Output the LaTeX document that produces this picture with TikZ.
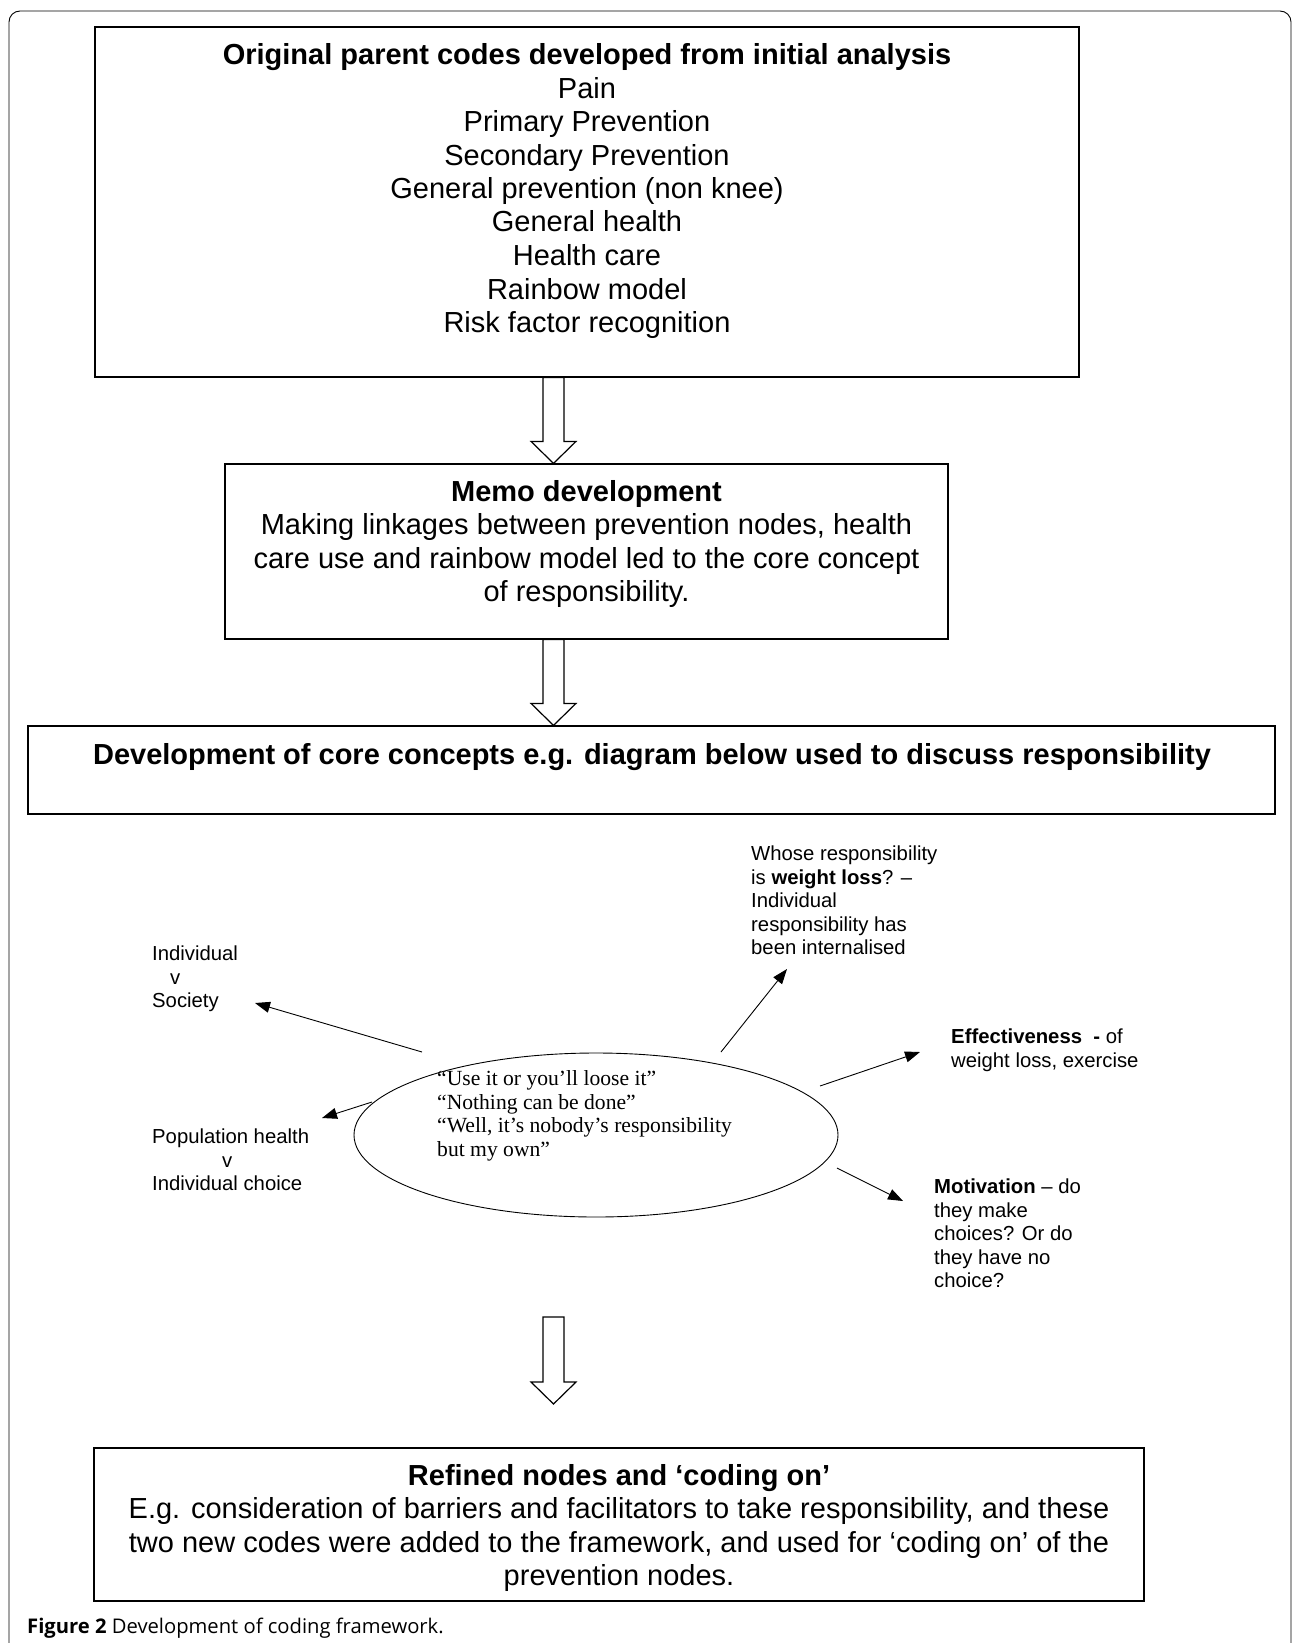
\documentclass[tikz,border=0pt]{standalone}
\usepackage{fontspec}
\setmainfont{Liberation Sans}
\newfontfamily\quotefont{Liberation Serif}
\newfontfamily\capfont{Open Sans}
\usetikzlibrary{arrows.meta,calc,shapes.geometric}

\newcommand{\hollowarrow}[2]{%
	\draw[hollow] ($(#1)+(-10.5,0)$) -- ($(#2)+(-10.5,-22)$) -- ($(#2)+(-22.5,-22)$) -- (#2)
		-- ($(#2)+(22.5,-22)$) -- ($(#2)+(10.5,-22)$) -- ($(#1)+(10.5,0)$) -- cycle;}

\tikzset{
	box/.style={draw,line width=1.2pt,inner sep=0pt},
	boxtext/.style={align=center,inner sep=0pt,font=\fontsize{29}{33.5}\selectfont},
	note/.style={align=left,anchor=north west,inner sep=0pt,font=\fontsize{20.3}{23.5}\selectfont},
	hollow/.style={line width=1.2pt,line join=miter},
	pointer/.style={line width=0.9pt,-{Triangle[length=15pt,width=11pt]}},
}

\begin{document}
\begin{tikzpicture}[x=1pt,y=-1pt]
	\useasboundingbox (0,0) rectangle (1293,1643);
	\draw[line width=0.9pt,rounded corners=11pt] (9,1643) -- (9,11) -- (1291,11) -- (1291,1643);

	\path (587,202) node[box,minimum width=984pt,minimum height=350pt] (origbox) {};
	\path (587,191) node[boxtext] (origtxt) {\textbf{Original parent codes developed from initial analysis}\\
		Pain\\Primary Prevention\\Secondary Prevention\\General prevention (non knee)\\
		General health\\Health care\\Rainbow model\\Risk factor recognition};

	\path (586.5,551.5) node[box,minimum width=723pt,minimum height=175pt] (memobox) {};
	\path (586.5,544) node[boxtext] (memotxt) {\textbf{Memo development}\\
		Making linkages between prevention nodes, health\\
		care use and rainbow model led to the core concept\\
		of responsibility.};

	\path (651.5,770) node[box,minimum width=1247pt,minimum height=88pt] (conceptbox) {};
	\path (652,757) node[boxtext] (concepttxt) {\textbf{Development of core concepts e.g. diagram below used to discuss responsibility}};

	\path (619,1524.5) node[box,minimum width=1050pt,minimum height=153pt] (refinebox) {};
	\path (619,1528) node[boxtext] (refinetxt) {\textbf{Refined nodes and ‘coding on’}\\
		E.g. consideration of barriers and facilitators to take responsibility, and these\\
		two new codes were added to the framework, and used for ‘coding on’ of the\\
		prevention nodes.};

	\coordinate (axis) at (553.5,0);
	\coordinate (up1) at (origbox.south -| axis);
	\coordinate (dn1) at (memobox.north -| axis);
	\coordinate (up2) at (memobox.south -| axis);
	\coordinate (dn2) at (conceptbox.north -| axis);
	\coordinate (up3) at (553.5,1317);
	\coordinate (dn3) at (553.5,1404);
	\hollowarrow{up1}{dn1}
	\hollowarrow{up2}{dn2}
	\hollowarrow{up3}{dn3}

	\path (596,1135) node[draw,ellipse,line width=0.9pt,minimum width=484pt,minimum height=164pt,inner sep=0pt] (quotes) {};
	\path (437,1070) node[note,font=\quotefont\fontsize{21.6}{23.8}\selectfont] (quotetxt) {“Use it or you’ll loose it”\\
		“Nothing can be done”\\“Well, it’s nobody’s responsibility\\but my own”};

	\path (152,946) node[note] (society) {Individual\\\hspace*{18pt}v\\Society};
	\path (152,1129) node[note] (population) {Population health\\\hspace*{70pt}v\\Individual choice};
	\path (751,846) node[note] (weight) {Whose responsibility\\is \textbf{weight loss}? –\\Individual\\responsibility has\\been internalised};
	\path (951,1029) node[note] (effect) {\textbf{Effectiveness\ \ -} of\\weight loss, exercise};
	\path (934,1179) node[note] (motive) {\textbf{Motivation} – do\\they make\\choices? Or do\\they have no\\choice?};

	\coordinate (socFrom) at (422,1052);
	\coordinate (socTo) at (255,1003);
	\coordinate (popFrom) at (372,1102);
	\coordinate (popTo) at (322,1118);
	\coordinate (weightFrom) at (721,1052);
	\coordinate (weightTo) at (787,969);
	\coordinate (effFrom) at (820,1086);
	\coordinate (effTo) at (920,1052);
	\coordinate (motFrom) at (837,1168);
	\coordinate (motTo) at (903,1201);
	\draw[pointer] (socFrom) -- (socTo);
	\draw[pointer] (popFrom) -- (popTo);
	\draw[pointer] (weightFrom) -- (weightTo);
	\draw[pointer] (effFrom) -- (effTo);
	\draw[pointer] (motFrom) -- (motTo);

	\path (27,1628) node[anchor=west,inner sep=0pt,font=\capfont\fontsize{20.2}{23}\selectfont] (caption) {\textbf{Figure 2} Development of coding framework.};
\end{tikzpicture}
\end{document}
